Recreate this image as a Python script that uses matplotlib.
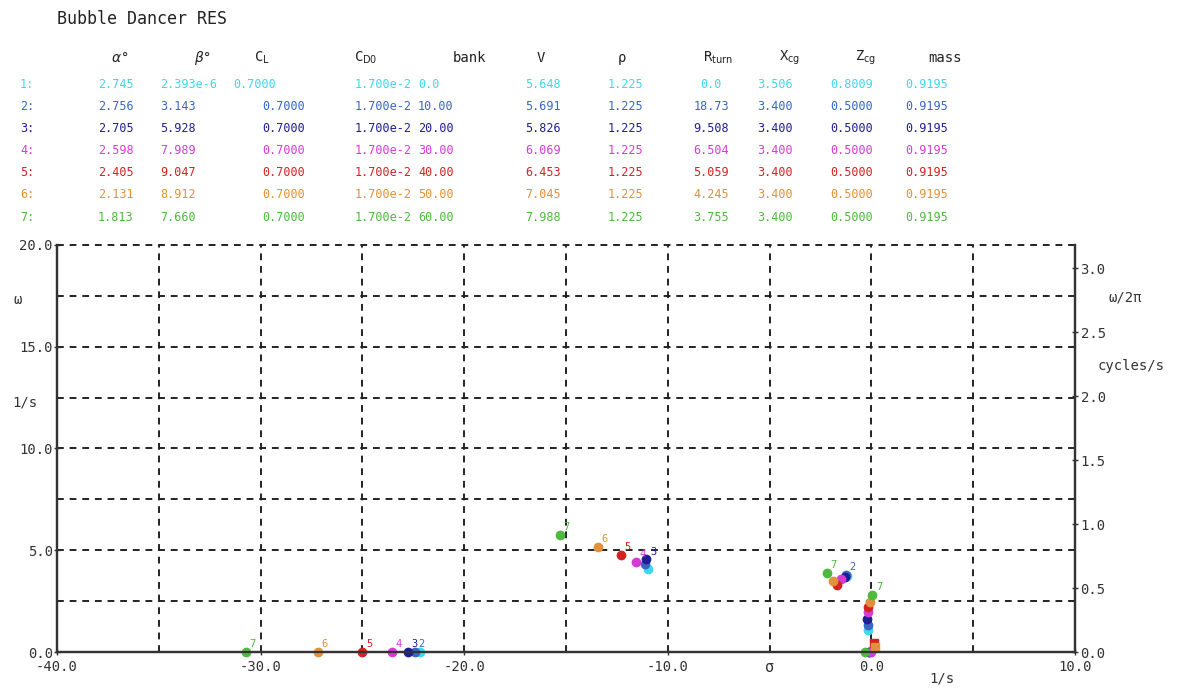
import numpy as np
import matplotlib
matplotlib.use("Agg")
import matplotlib.pyplot as plt

# ---------------- data ----------------
title = "Bubble Dancer RES"
cases = ["1", "2", "3", "4", "5", "6", "7"]
alpha = ["2.745", "2.756", "2.705", "2.598", "2.405", "2.131", "1.813"]
beta = ["2.393e-6", "3.143", "5.928", "7.989", "9.047", "8.912", "7.660"]
CL = ["0.7000"] * 7
CD0 = ["1.700e-2"] * 7
bank = ["0.0", "10.00", "20.00", "30.00", "40.00", "50.00", "60.00"]
V = ["5.648", "5.691", "5.826", "6.069", "6.453", "7.045", "7.988"]
rho = ["1.225"] * 7
Rturn = ["0.0", "18.73", "9.508", "6.504", "5.059", "4.245", "3.755"]
Xcg = ["3.506", "3.400", "3.400", "3.400", "3.400", "3.400", "3.400"]
Zcg = ["0.8009", "0.5000", "0.5000", "0.5000", "0.5000", "0.5000", "0.5000"]
mass = ["0.9195"] * 7

# eigenvalues (sigma, omega) per mode, index = case 1..7
rollA_sigma = [-22.15, -22.42, -22.76, -23.55, -25.0, -27.2, -30.72]
rollA_omega = [0.0, 0.0, 0.0, 0.0, 0.0, 0.0, 0.0]
dutchB_sigma = [-10.95, -11.1, -11.05, -11.55, -12.3, -13.43, -15.3]
dutchB_omega = [4.1, 4.3, 4.55, 4.42, 4.77, 5.16, 5.75]
modeC_sigma = [-1.2, -1.25, -1.3, -1.5, -1.7, -1.9, -2.2]
modeC_omega = [3.75, 3.78, 3.7, 3.6, 3.3, 3.5, 3.9]
modeD_sigma = [-0.15, -0.15, -0.2, -0.15, -0.15, -0.05, 0.05]
modeD_omega = [1.08, 1.33, 1.6, 1.97, 2.2, 2.45, 2.8]
modeE_sigma = [-0.1, -0.1, -0.1, 0.0, 0.15, 0.18, -0.3]
modeE_omega = [0.0, 0.0, 0.0, 0.0, 0.45, 0.25, 0.0]

# which point labels are visible per mode (case numbers)
labels_shown = [["2", "3", "4", "5", "6", "7"], ["3", "4", "5", "6", "7"],
                ["2", "7"], ["7"], []]

colors = ["#3fd7ee", "#3a66c0", "#1e1e98", "#d63bd6", "#d42222", "#e0913a", "#4fb83f"]

# ---------------- figure ----------------
W, H = 1188, 689
fig = plt.figure(figsize=(W / 100, H / 100), dpi=100)
mono = "DejaVu Sans Mono"
plt.rcParams['mathtext.fontset'] = 'dejavusans'


def ft(x, y, s, **kw):
    kw.setdefault("family", mono)
    kw.setdefault("va", "center")
    fig.text(x / W, 1 - y / H, s, **kw)


ft(57, 19, title, fontsize=12, color="#222222")

hdr_y = 58
headers = [(120, r"$\alpha$°"), (203, r"$\beta$°"), (262, r"C$_\mathrm{L}$"),
           (366, r"C$_\mathrm{D0}$"), (470, "bank"), (541, "V"), (622, "ρ"),
           (718, r"R$_\mathrm{turn}$"), (790, r"X$_\mathrm{cg}$"),
           (866, r"Z$_\mathrm{cg}$"), (945, "mass")]
for x, s in headers:
    ft(x, hdr_y, s, fontsize=10, ha="center", color="#222222")

row_y0, row_dy = 85, 22
for i in range(7):
    y = row_y0 + i * row_dy
    c = colors[i]
    kw = dict(fontsize=8.5, color=c, ha="left")
    ft(20, y, cases[i] + ":", **kw)
    ft(98, y, alpha[i], **kw)
    ft(160, y, beta[i], **kw)
    ft(233 if len(beta[i]) > 6 else 262, y, CL[i], **kw)
    ft(355, y, CD0[i], **kw)
    ft(418, y, bank[i], **kw)
    ft(525, y, V[i], **kw)
    ft(608, y, rho[i], **kw)
    ft(711, y, Rturn[i], fontsize=8.5, color=c, ha="center")
    ft(757, y, Xcg[i], **kw)
    ft(830, y, Zcg[i], **kw)
    ft(905, y, mass[i], **kw)

# axes
left, right, bottom, top = 57 / W, 1075 / W, 1 - 652 / H, 1 - 245 / H
ax = fig.add_axes([left, bottom, right - left, top - bottom])
ax.set_xlim(-40, 10)
ax.set_ylim(0, 20)

for xv in np.arange(-35, 10, 5):
    ax.axvline(xv, color="#222222", lw=1.4, ls=(0, (3.5, 3)), zorder=1)
for yv in np.arange(2.5, 20.01, 2.5):
    ax.axhline(yv, color="#222222", lw=1.4, ls=(0, (3.5, 3)), zorder=1, clip_on=False)

for s in ["left", "bottom", "right"]:
    ax.spines[s].set_linewidth(1.6)
    ax.spines[s].set_color("#333333")
ax.spines["top"].set_visible(False)

ax.set_xticks([-40, -30, -20, -10, 0, 10])
ax.set_xticklabels(["-40.0", "-30.0", "-20.0", "-10.0", "0.0", "10.0"])
ax.set_yticks([0, 5, 10, 15, 20])
ax.set_yticklabels(["0.0", "5.0", "10.0", "15.0", "20.0"])
ax.tick_params(axis="both", direction="inout", length=4, width=1, labelsize=10,
               colors="#333333", pad=1)
ax.tick_params(axis="x", pad=3.5)
for lab in ax.get_xticklabels() + ax.get_yticklabels():
    lab.set_family(mono)
    lab.set_color("#333333")

ax2 = ax.twinx()
ax2.set_ylim(0, 20 / (2 * np.pi))
ax2.set_yticks(np.arange(0, 3.01, 0.5))
ax2.set_yticklabels(["0.0", "0.5", "1.0", "1.5", "2.0", "2.5", "3.0"])
ax2.tick_params(axis="y", direction="inout", length=4, width=1, labelsize=10,
                colors="#333333", pad=2)
for lab in ax2.get_yticklabels():
    lab.set_family(mono)
for s in ["left", "bottom", "right"]:
    ax2.spines[s].set_linewidth(1.6)
    ax2.spines[s].set_color("#333333")
ax2.spines["top"].set_visible(False)

# axis text labels
ft(14, 300, "ω", fontsize=10, color="#333333")
ft(12, 402, "1/s", fontsize=10, color="#333333")
ft(1125, 298, "ω/2π", fontsize=10, ha="center", color="#333333")
ft(1131, 366, "cycles/s", fontsize=10, ha="center", color="#333333")
ft(770, 668, "σ", fontsize=11, ha="center", color="#333333")
ft(942, 679, "1/s", fontsize=10, ha="center", color="#333333")

modes = [(rollA_sigma, rollA_omega), (dutchB_sigma, dutchB_omega),
         (modeC_sigma, modeC_omega), (modeD_sigma, modeD_omega),
         (modeE_sigma, modeE_omega)]
for m, (sg, om) in enumerate(modes):
    for i in range(7):
        mk = "s" if (m == 4 and om[i] > 0) else "o"
        ax.plot(sg[i], om[i], marker=mk, ms=6, color=colors[i], mec=colors[i],
                zorder=3, clip_on=False)
        if cases[i] in labels_shown[m]:
            ax.annotate(cases[i], (sg[i], om[i]), xytext=(2.5, 3.5),
                        textcoords="offset points", fontsize=7.5, color=colors[i],
                        family=mono, zorder=4, annotation_clip=False)

fig.savefig("out.png", dpi=100)
